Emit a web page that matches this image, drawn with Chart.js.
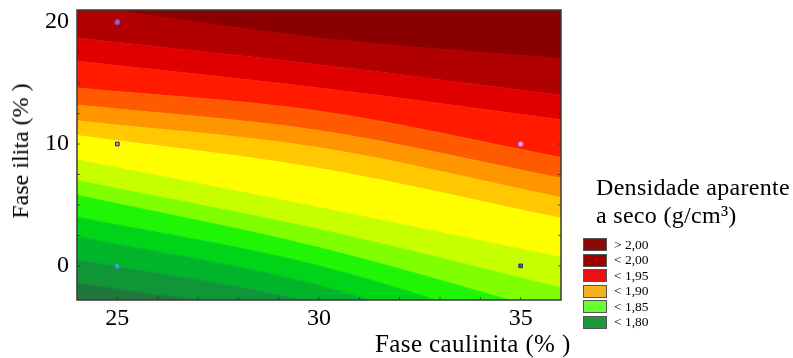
<!DOCTYPE html>
<html>
<head>
<meta charset="utf-8">
<script src="https://cdn.jsdelivr.net/npm/chart.js@4.4.1/dist/chart.umd.min.js"></script>
<style>
  html, body { margin: 0; padding: 0; background: #fff; }
  #wrap { position: relative; width: 793px; height: 358px; overflow: hidden; font-family: 'Liberation Serif', 'Times New Roman', serif; color: #000; }
  #c { position: absolute; left: 0; top: 0; }
  .txt { position: absolute; white-space: nowrap; line-height: 1; }
  #ytitle { left: 20px; top: 151px; font-size: 24px; transform: translate(-50%, -50%) rotate(-90deg); }
  #xtitle { left: 375px; top: 331px; font-size: 25px; letter-spacing: 0.4px; }
  #ltitle { left: 596px; top: 173px; font-size: 24px; line-height: 28px; letter-spacing: 0.3px; }
  #legend { position: absolute; left: 583px; top: 237px; }
  .row { display: flex; align-items: center; height: 15.5px; }
  .box { width: 22px; height: 11px; border: 1px solid #555; margin-right: 7px; }
  .lab { font-size: 13.5px; }
</style>
</head>
<body>
<div id="wrap">
  <canvas id="c" width="793" height="358"></canvas>
  <div class="txt" id="ytitle">Fase ilita (% )</div>
  <div class="txt" id="xtitle">Fase caulinita (% )</div>
  <div class="txt" id="ltitle">Densidade aparente<br>a seco (g/cm³)</div>
  <div id="legend"></div>
</div>
<script>
// ---- axis ticks ----
const xTickValues = [25, 30, 35];
const yTickValues = [0, 10, 20];

// ---- contour boundaries (Fase ilita value of each level line), bottom to top ----
const contourX = [24, 30, 36];
const levelAtX24 = [-1.4, 0.5, 2.4, 4.0, 5.8, 7.0, 8.7, 10.7, 11.9, 13.2, 14.6, 16.8, 18.7, 21.4];
const levelAtX30 = [-4.8, -3.2, -1.6, 0.0, 1.5, 3.0, 4.8, 8.0, 9.7, 11.1, 12.7, 14.6, 16.5, 18.7];
const levelAtX36 = [-12.2, -10.2, -8.1, -6.1, -4.0, -1.8, 0.7, 3.9, 5.6, 7.2, 8.9, 12.0, 14.0, 17.0];
const bandColors = ['#1f773b', '#0f9636', '#00b52a', '#00d418', '#20f505', '#80ff00', '#c8ff00',
                    '#ffff00', '#ffc800', '#ff9600', '#ff5a00', '#ff1a00', '#e00000', '#b00000', '#8a0000'];

// ---- experimental points ----
const pointX = [25, 25, 35, 25, 35];
const pointY = [20, 10, 10, 0, 0];
const pointFill = ['#9a5ec8', '#b08ad0', '#f7a0e0', '#40a8c8', '#505890'];
const pointBorder = ['#7a4aa0', '#402050', '#d050b0', '#3080a0', '#303060'];
const pointShape = ['circle', 'rect', 'circle', 'circle', 'rect'];

// ---- legend ----
const legendLabels = ['> 2,00', '< 2,00', '< 1,95', '< 1,90', '< 1,85', '< 1,80'];
const legendColors = ['#8a0a0a', '#9e0000', '#ee1010', '#f5b020', '#66ff33', '#1a9a3a'];

const legendEl = document.getElementById('legend');
legendLabels.forEach((l, i) => {
  const r = document.createElement('div'); r.className = 'row';
  const b = document.createElement('div'); b.className = 'box'; b.style.background = legendColors[i];
  const t = document.createElement('span'); t.className = 'lab'; t.textContent = l;
  r.appendChild(b); r.appendChild(t); legendEl.appendChild(r);
});

function levelData(k) {
  const vals = [levelAtX24[k], levelAtX30[k], levelAtX36[k]];
  return contourX.map((x, j) => ({ x, y: vals[j] }));
}

const datasets = [];
datasets.push({
  type: 'scatter',
  data: pointX.map((x, i) => ({ x, y: pointY[i] })),
  pointBackgroundColor: pointFill,
  pointBorderColor: pointBorder,
  pointStyle: pointShape,
  pointRadius: 2.6,
  pointBorderWidth: 1,
  showLine: false,
  order: 0
});
levelAtX24.forEach((v, k) => {
  datasets.push({
    type: 'line',
    data: levelData(k),
    backgroundColor: bandColors[k],
    borderColor: bandColors[k],
    borderWidth: 1,
    pointRadius: 0,
    cubicInterpolationMode: 'monotone',
    fill: k === 0 ? 'start' : '-1',
    order: 1
  });
});
const topK = levelAtX24.length - 1;
datasets.push({
  type: 'line',
  data: levelData(topK),
  backgroundColor: bandColors[topK + 1],
  borderColor: bandColors[topK + 1],
  borderWidth: 1,
  pointRadius: 0,
  cubicInterpolationMode: 'monotone',
  fill: 'end',
  order: 1
});

const framePlugin = {
  id: 'frame',
  afterDatasetsDraw(chart) {
    const { ctx, chartArea: a, scales } = chart;
    ctx.save();
    ctx.strokeStyle = '#3a3a3a';
    ctx.lineWidth = 1.5;
    ctx.strokeRect(a.left, a.top, a.right - a.left, a.bottom - a.top);
    ctx.lineWidth = 1;
    ctx.strokeStyle = 'rgba(40,40,40,0.7)';
    for (let v = 0; v <= 20.01; v += 2.5) {
      const p = scales.y.getPixelForValue(v);
      ctx.beginPath(); ctx.moveTo(a.left, p); ctx.lineTo(a.left + 3, p); ctx.stroke();
      ctx.beginPath(); ctx.moveTo(a.right, p); ctx.lineTo(a.right - 3, p); ctx.stroke();
    }
    for (let v = 25; v <= 35.01; v += 1) {
      const p = scales.x.getPixelForValue(v);
      ctx.beginPath(); ctx.moveTo(p, a.bottom); ctx.lineTo(p, a.bottom - 3); ctx.stroke();
    }
    ctx.restore();
  }
};

new Chart(document.getElementById('c'), {
  type: 'line',
  data: { datasets },
  plugins: [framePlugin],
  options: {
    responsive: false,
    animation: false,
    events: [],
    layout: { padding: { left: 0, right: 232, top: 10, bottom: 0 } },
    plugins: { legend: { display: false }, tooltip: { enabled: false } },
    scales: {
      x: {
        type: 'linear', min: 24, max: 36,
        grid: { display: false, drawTicks: false }, border: { display: false },
        afterBuildTicks: s => { s.ticks = xTickValues.map(v => ({ value: v })); },
        afterFit: s => { s.height = 58; s.paddingLeft = 0; s.paddingRight = 0; },
        ticks: { color: '#000', padding: 4, font: { family: "'Liberation Serif', serif", size: 24 } }
      },
      y: {
        type: 'linear', min: -2.8, max: 21,
        grid: { display: false, drawTicks: false }, border: { display: false },
        afterBuildTicks: s => { s.ticks = yTickValues.map(v => ({ value: v })); },
        afterFit: s => { s.width = 77; s.paddingTop = 0; s.paddingBottom = 0; },
        ticks: { color: '#000', padding: 8, font: { family: "'Liberation Serif', serif", size: 24 } }
      }
    }
  }
});
</script>
</body>
</html>
